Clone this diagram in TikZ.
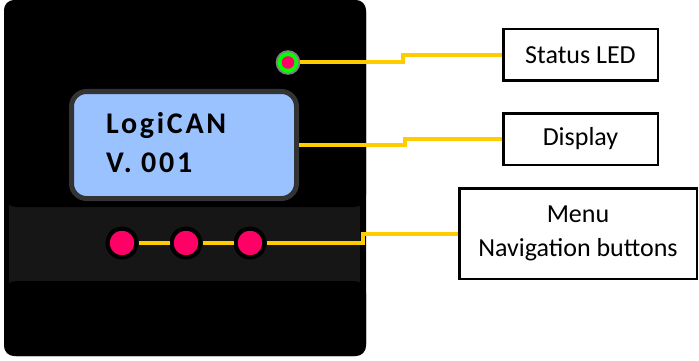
\documentclass[tikz,border=0pt]{standalone}
\usepackage{fontspec}
\setmainfont{Carlito}
\newfontfamily\lcdfont[LetterSpace=9]{Carlito}
\usetikzlibrary{positioning,calc}
\definecolor{cBody}{HTML}{000000}
\definecolor{cBand}{HTML}{161616}
\definecolor{cLcd}{HTML}{99C2FF}
\definecolor{cFrame}{HTML}{333333}
\definecolor{cWire}{HTML}{FFCC00}
\definecolor{cKey}{HTML}{FF0066}
\definecolor{cLed}{HTML}{00FF00}
\definecolor{cRing}{HTML}{808080}
\tikzset{
  lcd/.style={draw=cFrame, line width=5pt, fill=cLcd, rounded corners=15pt,
              minimum width=225pt, minimum height=107pt, inner sep=0pt},
  lcdtxt/.style={font=\lcdfont\bfseries\fontsize{30}{34}\selectfont, inner sep=0pt},
  key/.style={circle, draw=black, line width=4.2pt, fill=cKey,
              minimum size=28.8pt, inner sep=0pt},
  led/.style={circle, draw=cRing, line width=1.8pt, fill=cLed,
              minimum size=22.8pt, inner sep=0pt,
              path picture={\fill[cKey] (path picture bounding box.center) circle (6.3pt);}},
  lbl/.style={draw=black, line width=2.5pt, fill=white, align=center, inner sep=0pt,
              font=\fontsize{26}{34}\selectfont},
  wire/.style={cWire, line width=4pt},
}

\begin{document}
\begin{tikzpicture}[x=1pt, y=-1pt]
    \useasboundingbox (0,0) rectangle (699,361);
    % housing
    \fill[cBody, rounded corners=10pt] (4,0) rectangle (366,356);
    \fill[cBand] (9,200) rectangle (360,290);
    \fill[cBody, rounded corners=12pt] (4,0) rectangle (366,207);
    \fill[cBody, rounded corners=12pt] (4,281) rectangle (366,356);

    \node[lcd] (disp) at (184,145) {};
    \node[lcdtxt, anchor=base west] (logo) at (106,133) {LogiCAN};
    \node[lcdtxt, anchor=base west] (ver) at (106,172) {V. 001};
    \node[led] (led) at (288,62.5) {};
    \node[key] (k1) at (122,243) {};
    \node[key] (k2) at (186,243) {};
    \node[key] (k3) at (250,243) {};

    % labels
    \node[lbl, minimum width=154.5pt, minimum height=51.5pt] (ledbox) at (580.5,55) {Status LED};
    \node[lbl, minimum width=154.5pt, minimum height=51.5pt] (dispbox) at (580.5,139) {Display};
    \node[lbl, minimum width=237.5pt, minimum height=90.5pt] (menubox) at (578,233.5) {Menu\\Navigation buttons};

    \draw[wire] (led.east) -- ++(103,0) |- (ledbox.west);
    \draw[wire] (disp.east) -- ++(106,0) |- (dispbox.west);
    \draw[wire] (k1.east) -- (k2.west);
    \draw[wire] (k2.east) -- (k3.west);
    \draw[wire] (k3.east) -- ++(96,0) |- (menubox.west);
  \end{tikzpicture}
\end{document}
